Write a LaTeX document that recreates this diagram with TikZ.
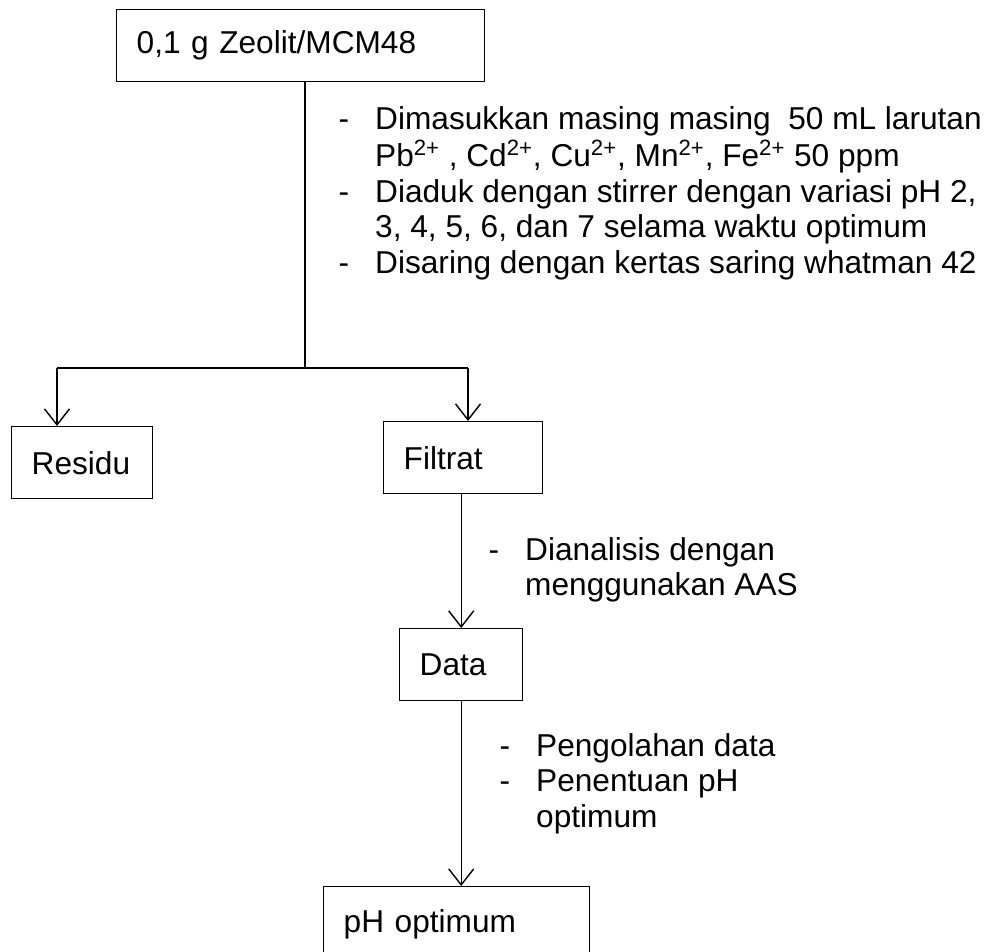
\documentclass[tikz,border=0pt]{standalone}
\usepackage{fontspec}
\setmainfont{Liberation Sans}
\usetikzlibrary{arrows.meta}

\begin{document}
\begin{tikzpicture}[>={Straight Barb[length=0.32cm,width=0.5cm]}, line width=0.8pt,
  box/.style = {draw, rectangle, anchor=north west, minimum height=1.44cm, inner xsep=0.4cm, align=left, font=\fontsize{18}{21.6}\selectfont},
  note/.style = {anchor=base west, inner sep=0pt, font=\fontsize{18}{20.4}\selectfont}]
\useasboundingbox (0,0) rectangle (19.84,-19.02);
\node[box, text width=6.56cm] (zeolit) at (2.32,-0.18) {0,1 g Zeolit/MCM48};
\node[box, text width=2.02cm] (residu) at (0.22,-8.52) {Residu};
\node[box, text width=2.38cm] (filtrat) at (7.66,-8.42) {Filtrat};
\node[box, text width=1.66cm] (data) at (7.98,-12.56) {Data};
\node[box, text width=4.52cm, minimum height=1.5cm] (phopt) at (6.46,-17.72) {pH optimum};
\coordinate (split) at (6.1,-7.36);
\coordinate (left) at (1.14,-7.36);
\coordinate (right) at (9.36,-7.36);
% keterangan proses
\node[note] (step1) at (6.76,-2.58) {\begin{tabular}[t]{@{}l@{\hspace{0.52cm}}l@{}}
- & Dimasukkan masing masing\ \ 50 mL larutan\\
  & Pb\textsuperscript{2+} , Cd\textsuperscript{2+}, Cu\textsuperscript{2+}, Mn\textsuperscript{2+}, Fe\textsuperscript{2+} 50 ppm\\
- & Diaduk dengan stirrer dengan variasi pH 2,\\
  & 3, 4, 5, 6, dan 7 selama waktu optimum\\
- & Disaring dengan kertas saring whatman 42
\end{tabular}};
\node[note] (step2) at (9.76,-11.2) {\begin{tabular}[t]{@{}l@{\hspace{0.52cm}}l@{}}
- & Dianalisis dengan\\
  & menggunakan AAS
\end{tabular}};
\node[note] (step3) at (9.98,-15.12) {\begin{tabular}[t]{@{}l@{\hspace{0.52cm}}l@{}}
- & Pengolahan data\\
- & Penentuan pH\\
  & optimum
\end{tabular}};
\draw (zeolit.south -| split) -- (split);
\draw (left) -- (right);
\draw[->] (left) -- (residu.north -| left);
\draw[->] (right) -- (filtrat.north -| right);
\draw[->] (filtrat.south -| data.north) -- (data.north);
\draw[->] (data.south) -- (data.south |- phopt.north);
\end{tikzpicture}
\end{document}
